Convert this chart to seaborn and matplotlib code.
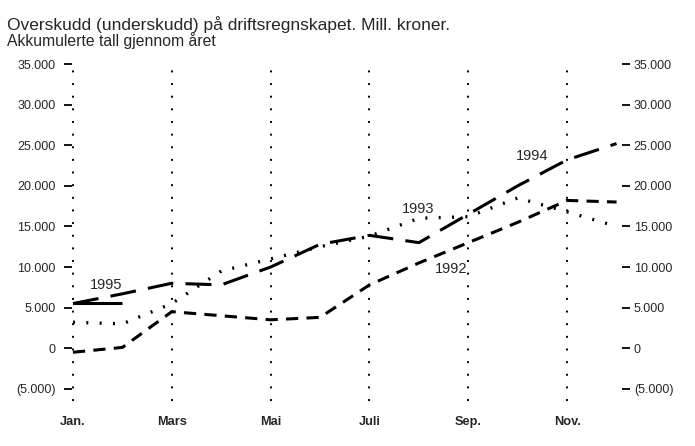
import matplotlib
matplotlib.use("Agg")
import matplotlib.pyplot as plt
import seaborn as sns
import pandas as pd

sns.set_style("white")
plt.rcParams['font.family'] = ['Liberation Sans Narrow', 'Liberation Sans', 'DejaVu Sans']

months = ["Jan.", "Feb.", "Mars", "Apr.", "Mai", "Juni", "Juli", "Aug.", "Sep.", "Okt.", "Nov.", "Des."]
tick_months = ["Jan.", "Mars", "Mai", "Juli", "Sep.", "Nov."]
y_1992 = [-500, 100, 4500, 4000, 3500, 3800, 7800, 10500, 13000, 15500, 18200, 18000]
y_1993 = [3200, 3000, 5500, 9500, 11000, 12500, 13800, 16000, 16200, 18500, 16800, 15000]
y_1994 = [5500, 6700, 8000, 7800, 10000, 12800, 13900, 13000, 16500, 20000, 23200, 25200]
y_1995 = [5600, 5600]
y_ticks = [-5000, 0, 5000, 10000, 15000, 20000, 25000, 30000, 35000]
y_tick_labels = ["(5.000)", "0", "5.000", "10.000", "15.000", "20.000", "25.000", "30.000", "35.000"]

fig = plt.figure(figsize=(6.95, 4.46), dpi=100)
ax = fig.add_axes([72/695, 1 - 401/446, (622-72)/695, (401-64)/446])

pos = list(range(len(months)))
series = [
    (y_1992, (4, 2.7), 2.2),
    (y_1993, (0.6, 3.4), 2.4),
    (y_1994, (8.5, 4), 2.2),
    (y_1995, None, 2.2),
]
for vals, dash, lw in series:
    sns.lineplot(x=pos[:len(vals)], y=vals, ax=ax, color="black", linewidth=lw)
    ln = ax.lines[-1]
    if dash is not None:
        ln.set_dashes(dash)
    ln.set_solid_capstyle("butt")
    ln.set_dash_capstyle("butt")

for m in tick_months:
    ax.axvline(months.index(m), color="black", linewidth=1.4, linestyle=(0, (1, 5.5)), zorder=0,
               ymin=0.0, ymax=0.985)

ylim = (-6500, 35000)
ax.set_xlim(-0.02, 11.11)
ax.set_ylim(*ylim)
ax.set_xticks([months.index(m) for m in tick_months])
ax.set_xticklabels(tick_months, fontweight="bold", fontsize=9.2)
ax.tick_params(axis="x", length=0, pad=11)
ax.set_yticks(y_ticks)
ax.set_yticklabels(y_tick_labels, fontsize=9)
ax.tick_params(axis="y", direction="out", length=6, width=1.3, pad=6, color="black",
               left=True, right=False, labelleft=True, labelright=False)
for s in ax.spines.values():
    s.set_visible(False)
ax.grid(False)

ax2 = ax.twinx()
ax2.set_ylim(*ylim)
ax2.set_yticks(y_ticks)
ax2.set_yticklabels(y_tick_labels, fontsize=9)
ax2.tick_params(axis="y", direction="out", length=6, width=1.3, pad=2.5, color="black",
                left=False, right=True, labelleft=False, labelright=True)
for s in ax2.spines.values():
    s.set_visible(False)
ax2.grid(False)

ax.text(months.index("Jan.") + 0.34, 7300, "1995", fontsize=10.5)
ax.text(6.66, 16600, "1993", fontsize=10.5)
ax.text(months.index("Sep.") - 0.02, 9300, "1992", fontsize=10.5, ha="right")
ax.text(8.97, 23200, "1994", fontsize=10.5)

fig.text(7/695, 1 - 30/446, "Overskudd (underskudd) på driftsregnskapet. Mill. kroner.", fontsize=12.5)
fig.text(7/695, 1 - 46/446, "Akkumulerte tall gjennom året", fontsize=11.3)

fig.savefig("out.png", dpi=100)
